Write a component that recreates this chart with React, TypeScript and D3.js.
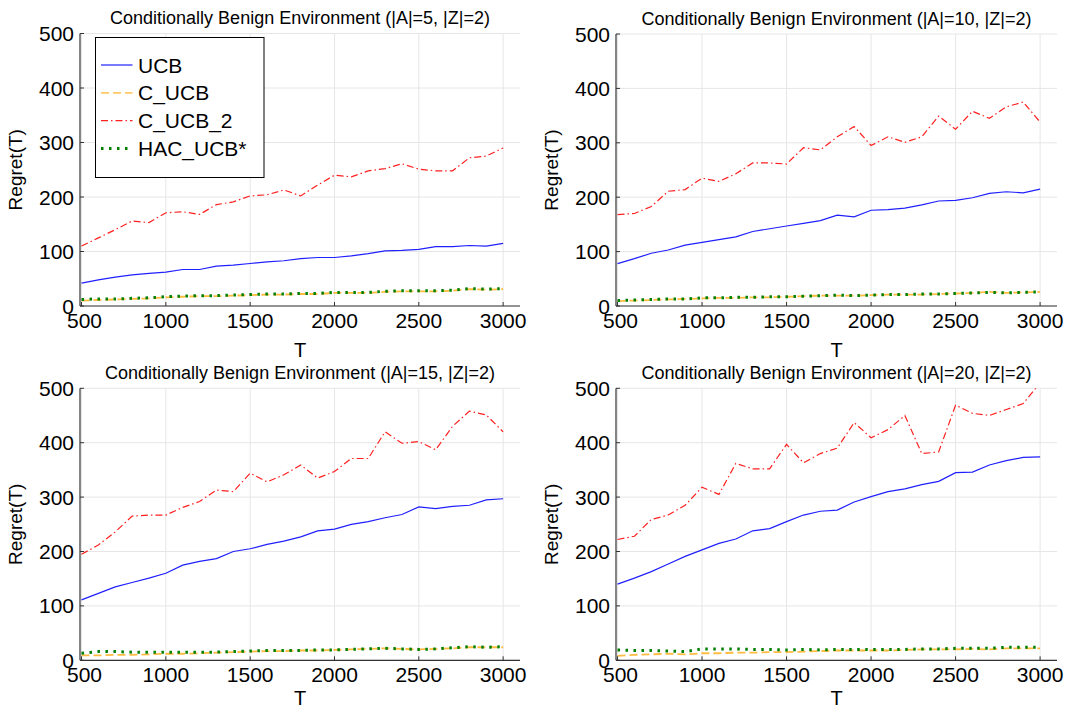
import React from 'react';
import * as d3 from 'd3';

// horizon values T = 500, 600, ..., 3000
const horizons = d3.range(500, 3001, 100);
const xTicks = [500, 1000, 1500, 2000, 2500, 3000];
const yTicks = [0, 100, 200, 300, 400, 500];

const titles = [
  'Conditionally Benign Environment (|A|=5, |Z|=2)',
  'Conditionally Benign Environment (|A|=10, |Z|=2)',
  'Conditionally Benign Environment (|A|=15, |Z|=2)',
  'Conditionally Benign Environment (|A|=20, |Z|=2)',
];

const seriesNames = ['UCB', 'C_UCB', 'C_UCB_2', 'HAC_UCB*'];

// |A|=5
const ucbA5 = [42, 48, 53, 57, 60, 62, 67, 67, 73, 75, 78, 81, 83, 87, 89, 89, 92, 96, 101, 102, 104, 109, 109, 111, 110, 115];
const cucbA5 = [10, 11, 12, 13, 14, 16, 17, 18, 18, 19, 20, 21, 21, 22, 22, 24, 24, 24, 26, 27, 27, 27, 28, 31, 30, 31];
const cucb2A5 = [110, 125, 140, 156, 153, 171, 173, 168, 186, 191, 202, 204, 213, 202, 222, 240, 237, 248, 252, 261, 251, 248, 248, 272, 275, 290];
const hacA5 = [12, 13, 13, 14, 15, 17, 18, 19, 19, 20, 21, 22, 22, 23, 23, 25, 25, 25, 27, 28, 28, 28, 29, 32, 31, 32];

// |A|=10
const ucbA10 = [78, 87, 97, 103, 112, 117, 122, 127, 137, 142, 147, 152, 157, 167, 164, 176, 177, 180, 186, 193, 194, 199, 207, 210, 208, 215];
const cucbA10 = [9, 10, 11, 12, 13, 14, 15, 15, 16, 16, 17, 18, 19, 19, 19, 20, 21, 21, 21, 22, 23, 24, 26, 24, 25, 26];
const cucb2A10 = [168, 170, 183, 211, 214, 235, 229, 243, 263, 263, 261, 291, 287, 311, 330, 295, 311, 301, 311, 349, 325, 358, 345, 366, 375, 338];
const hacA10 = [10, 11, 12, 13, 13, 15, 15, 16, 16, 17, 17, 18, 19, 20, 19, 20, 21, 21, 22, 22, 23, 24, 25, 24, 25, 26];

// |A|=15
const ucbA15 = [111, 123, 135, 143, 151, 160, 175, 182, 187, 200, 205, 213, 219, 227, 238, 241, 250, 255, 262, 268, 282, 279, 283, 285, 295, 297];
const cucbA15 = [9, 9, 10, 10, 11, 12, 12, 13, 14, 15, 16, 17, 17, 18, 18, 19, 20, 21, 22, 21, 20, 21, 22, 24, 24, 24];
const cucb2A15 = [195, 212, 236, 265, 267, 267, 281, 292, 313, 310, 344, 328, 341, 359, 335, 347, 371, 371, 420, 399, 402, 387, 430, 458, 451, 420];
const hacA15 = [13, 16, 16, 15, 15, 15, 15, 15, 15, 16, 17, 18, 18, 18, 19, 19, 20, 21, 22, 21, 20, 21, 23, 25, 24, 25];

// |A|=20
const ucbA20 = [140, 151, 163, 177, 191, 203, 215, 223, 238, 242, 255, 267, 274, 276, 291, 301, 310, 315, 323, 329, 345, 346, 359, 367, 373, 374];
const cucbA20 = [8, 10, 11, 12, 11, 13, 13, 14, 14, 15, 15, 16, 17, 18, 18, 18, 18, 19, 20, 20, 20, 21, 20, 22, 22, 22];
const cucb2A20 = [222, 228, 259, 267, 285, 318, 305, 362, 352, 352, 397, 363, 380, 390, 437, 409, 424, 450, 380, 383, 469, 454, 450, 461, 472, 510];
const hacA20 = [19, 18, 18, 17, 16, 21, 21, 21, 20, 20, 19, 20, 19, 20, 20, 20, 20, 20, 21, 21, 22, 22, 22, 24, 24, 24];

const panelSeries = [
  [ucbA5, cucbA5, cucb2A5, hacA5],
  [ucbA10, cucbA10, cucb2A10, hacA10],
  [ucbA15, cucbA15, cucb2A15, hacA15],
  [ucbA20, cucbA20, cucb2A20, hacA20],
];

const styles = [
  { stroke: '#2020ff', width: 1.2, dash: undefined as string | undefined, opacity: 1 },
  { stroke: '#ffa500', width: 1.8, dash: '8 4', opacity: 0.75 },
  { stroke: '#ff2020', width: 1.2, dash: '7 3 1.5 3', opacity: 1 },
  { stroke: '#008000', width: 3, dash: '2.5 5.5', opacity: 1 },
];

const W = 1068;
const H = 709;
const font = 'Liberation Sans, Arial, Helvetica, sans-serif';

// plot boxes: [left, right, top (500), bottom (0)]
const boxes = [
  { l: 80, r: 520, t: 33.5, b: 306 },
  { l: 616, r: 1057, t: 34, b: 306 },
  { l: 80, r: 520, t: 388.3, b: 660.3 },
  { l: 616, r: 1057, t: 388.3, b: 660.3 },
];

const Panel: React.FC<{ idx: number }> = ({ idx }) => {
  const box = boxes[idx];
  const x = d3.scaleLinear().domain([491, 3100]).range([box.l, box.r]);
  const y = d3.scaleLinear().domain([0, 500]).range([box.b, box.t]);
  const line = d3
    .line<number>()
    .x((_, i) => x(horizons[i]))
    .y((d) => y(d));
  const cx = (box.l + box.r) / 2;
  const cy = (box.t + box.b) / 2;
  const clipId = `clip-${idx}`;

  return (
    <g>
      <defs>
        <clipPath id={clipId}>
          <rect x={box.l} y={box.t} width={box.r - box.l} height={box.b - box.t} />
        </clipPath>
      </defs>
      {/* grid */}
      {xTicks.map((t) => (
        <line key={'gx' + t} x1={x(t)} x2={x(t)} y1={box.t} y2={box.b} stroke="#e6e6e6" strokeWidth={1} />
      ))}
      {yTicks.map((t) => (
        <line key={'gy' + t} x1={box.l} x2={box.r} y1={y(t)} y2={y(t)} stroke="#e6e6e6" strokeWidth={1} />
      ))}
      {/* series */}
      <g clipPath={`url(#${clipId})`}>
        {panelSeries[idx].map((vals, i) => (
          <path
            key={seriesNames[i]}
            d={line(vals) ?? ''}
            fill="none"
            stroke={styles[i].stroke}
            strokeWidth={styles[i].width}
            strokeDasharray={styles[i].dash}
            strokeOpacity={styles[i].opacity}
          />
        ))}
      </g>
      {/* axes */}
      <line x1={box.l} x2={box.l} y1={box.t} y2={box.b} stroke="#333" strokeWidth={1.2} />
      <line x1={box.l} x2={box.r} y1={box.b} y2={box.b} stroke="#333" strokeWidth={1.2} />
      {xTicks.map((t) => (
        <g key={'tx' + t}>
          <line x1={x(t)} x2={x(t)} y1={box.b} y2={box.b - 4} stroke="#333" />
          <text x={x(t) + (t === 500 ? 3 : 0)} y={box.b + 22} textAnchor="middle" fontSize={21} fontFamily={font}>
            {t}
          </text>
        </g>
      ))}
      {yTicks.map((t) => (
        <g key={'ty' + t}>
          <line x1={box.l} x2={box.l + 4} y1={y(t)} y2={y(t)} stroke="#333" />
          <text x={box.l - 6} y={y(t) + 7.5} textAnchor="end" fontSize={21} fontFamily={font}>
            {t}
          </text>
        </g>
      ))}
      <text x={cx} y={box.t - 9.5} textAnchor="middle" fontSize={18} fontFamily={font}>
        {titles[idx]}
      </text>
      <text x={cx} y={Math.min(box.b + 51, 705)} textAnchor="middle" fontSize={20} fontFamily={font}>
        T
      </text>
      <text
        transform={`translate(${box.l - 58},${cy}) rotate(-90)`}
        textAnchor="middle"
        fontSize={19}
        fontFamily={font}
      >
        Regret(T)
      </text>
    </g>
  );
};

const Legend: React.FC = () => {
  const lx = 95.5;
  const ly = 37.5;
  return (
    <g>
      <rect x={lx} y={ly} width={168.5} height={140} fill="white" stroke="black" strokeWidth={1} />
      {seriesNames.map((name, i) => {
        const ry = ly + 27.5 + i * 27.8;
        return (
          <g key={name}>
            <line
              x1={lx + 5.5}
              x2={lx + 37}
              y1={ry}
              y2={ry}
              stroke={styles[i].stroke}
              strokeWidth={styles[i].width}
              strokeDasharray={styles[i].dash}
              strokeOpacity={i === 1 ? 0.6 : styles[i].opacity}
            />
            <text x={lx + 42.5} y={ry + 7.5} fontSize={21} fontFamily={font}>
              {name}
            </text>
          </g>
        );
      })}
    </g>
  );
};

export default function App() {
  return (
    <svg
      width={W}
      height={H}
      style={{ position: 'absolute', left: 0, top: 0, background: 'white' }}
    >
      <rect x={0} y={0} width={W} height={H} fill="white" />
      {[0, 1, 2, 3].map((i) => (
        <Panel key={i} idx={i} />
      ))}
      <Legend />
    </svg>
  );
}
